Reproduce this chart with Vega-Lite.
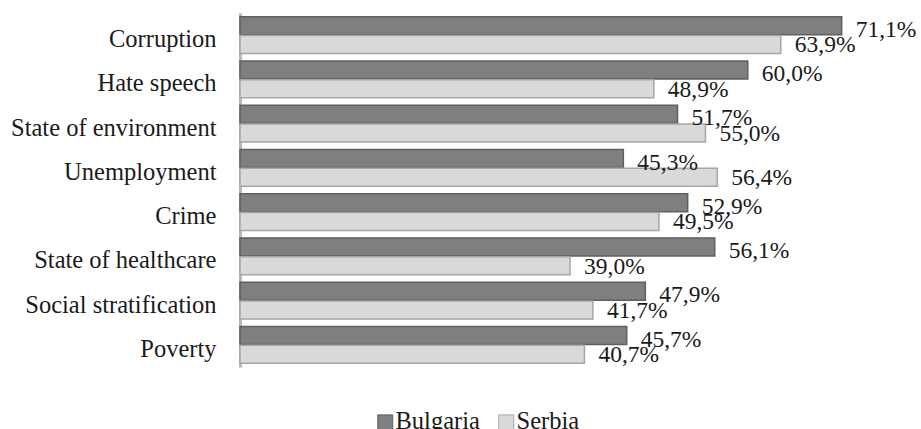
{
  "$schema": "https://vega.github.io/schema/vega-lite/v6.json",
  "width": 677,
  "height": 354,
  "autosize": {"type": "none"},
  "padding": {"left": 240, "top": 13, "right": 4, "bottom": 62},
  "background": "white",
  "data": {
    "values": [
      {"issue": "Corruption", "country": "Bulgaria", "value": 71.1},
      {"issue": "Corruption", "country": "Serbia", "value": 63.9},
      {"issue": "Hate speech", "country": "Bulgaria", "value": 60.0},
      {"issue": "Hate speech", "country": "Serbia", "value": 48.9},
      {"issue": "State of environment", "country": "Bulgaria", "value": 51.7},
      {"issue": "State of environment", "country": "Serbia", "value": 55.0},
      {"issue": "Unemployment", "country": "Bulgaria", "value": 45.3},
      {"issue": "Unemployment", "country": "Serbia", "value": 56.4},
      {"issue": "Crime", "country": "Bulgaria", "value": 52.9},
      {"issue": "Crime", "country": "Serbia", "value": 49.5},
      {"issue": "State of healthcare", "country": "Bulgaria", "value": 56.1},
      {"issue": "State of healthcare", "country": "Serbia", "value": 39.0},
      {"issue": "Social stratification", "country": "Bulgaria", "value": 47.9},
      {"issue": "Social stratification", "country": "Serbia", "value": 41.7},
      {"issue": "Poverty", "country": "Bulgaria", "value": 45.7},
      {"issue": "Poverty", "country": "Serbia", "value": 40.7}
    ]
  },
  "transform": [
    {"calculate": "replace(format(datum.value, '.1f'), '.', ',') + '%'", "as": "label"}
  ],
  "encoding": {
    "y": {
      "field": "issue",
      "type": "nominal",
      "sort": ["Corruption", "Hate speech", "State of environment", "Unemployment", "Crime", "State of healthcare", "Social stratification", "Poverty"],
      "scale": {"paddingInner": 0.174, "paddingOuter": 0.087},
      "axis": {
        "title": null,
        "ticks": false,
        "labelPadding": 24,
        "labelOffset": 5,
        "labelLimit": 400,
        "labelFont": "Liberation Serif",
        "labelFontSize": 24.5,
        "labelColor": "#1a1a1a",
        "domainColor": "#b8b8b8",
        "domainWidth": 3,
        "grid": false
      }
    },
    "yOffset": {
      "field": "country",
      "type": "nominal",
      "sort": ["Bulgaria", "Serbia"],
      "scale": {"paddingInner": 0.03}
    },
    "x": {
      "field": "value",
      "type": "quantitative",
      "scale": {"domain": [0, 80], "nice": false},
      "axis": null
    }
  },
  "layer": [
    {
      "mark": {"type": "bar", "strokeWidth": 1.5},
      "encoding": {
        "color": {
          "field": "country",
          "type": "nominal",
          "sort": ["Bulgaria", "Serbia"],
          "scale": {"domain": ["Bulgaria", "Serbia"], "range": ["#7f7f7f", "#d9d9d9"]},
          "legend": {
            "title": null,
            "orient": "none",
            "legendX": 133,
            "legendY": 397,
            "direction": "horizontal",
            "symbolType": "square",
            "symbolSize": 225,
            "symbolStrokeWidth": 1,
            "labelFont": "Liberation Serif",
            "labelFontSize": 24.5,
            "labelColor": "#1a1a1a",
            "labelOffset": -2,
            "columnPadding": 14
          }
        },
        "stroke": {
          "field": "country",
          "type": "nominal",
          "sort": ["Bulgaria", "Serbia"],
          "scale": {"domain": ["Bulgaria", "Serbia"], "range": ["#5f5f5f", "#a6a6a6"]},
          "legend": {
            "title": null,
            "orient": "none",
            "legendX": 133,
            "legendY": 397,
            "direction": "horizontal",
            "symbolType": "square",
            "symbolSize": 225,
            "symbolStrokeWidth": 1,
            "labelFont": "Liberation Serif",
            "labelFontSize": 24.5,
            "labelColor": "#1a1a1a",
            "labelOffset": -2,
            "columnPadding": 14
          }
        }
      }
    },
    {
      "transform": [{"filter": "datum.country === 'Bulgaria'"}],
      "mark": {"type": "text", "align": "left", "baseline": "middle", "dx": 14, "dy": 4, "font": "Liberation Serif", "fontSize": 23.5, "color": "#1a1a1a"},
      "encoding": {"text": {"field": "label"}}
    },
    {
      "transform": [{"filter": "datum.country === 'Serbia'"}],
      "mark": {"type": "text", "align": "left", "baseline": "middle", "dx": 14, "dy": 1, "font": "Liberation Serif", "fontSize": 23.5, "color": "#1a1a1a"},
      "encoding": {"text": {"field": "label"}}
    }
  ],
  "config": {"view": {"stroke": null}, "font": "Liberation Serif"}
}
